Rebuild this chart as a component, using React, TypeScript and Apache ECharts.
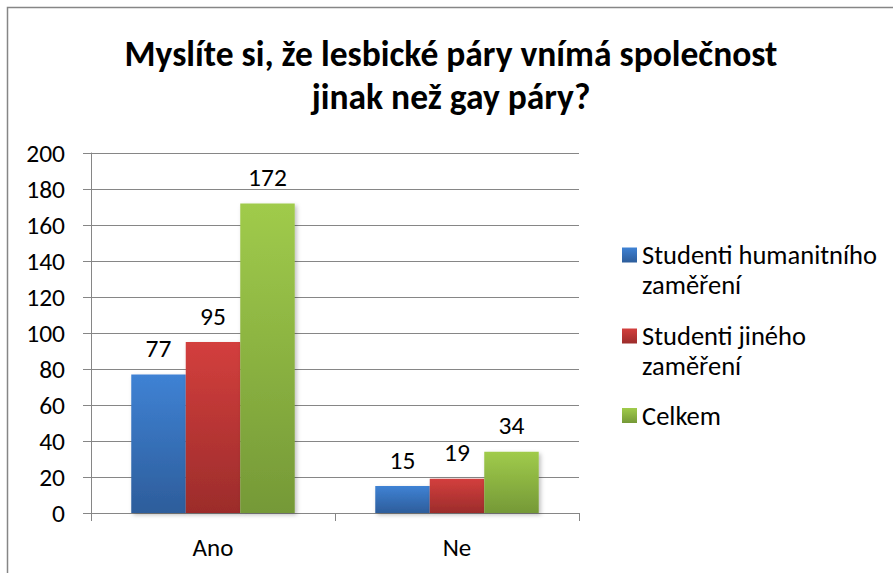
import React, { useEffect, useRef } from "react";
import * as echarts from "echarts";

const titleLines = ["Myslíte si, že lesbické páry vnímá společnost", "jinak než gay páry?"];
const categories = ["Ano", "Ne"];
const seriesNames = ["Studenti humanitního zaměření", "Studenti jiného zaměření", "Celkem"];
const legendLabels = ["Studenti humanitního\nzaměření", "Studenti jiného\nzaměření", "Celkem"];
const humanities = [77, 15];
const other = [95, 19];
const total = [172, 34];
const yTicks = { min: 0, max: 200, interval: 20 };

const FONT = "Carlito, Lato, 'Noto Sans', sans-serif";

const gradients = [
  ["#3f82d4", "#2d5d9b"],
  ["#d33f3d", "#9c2c2b"],
  ["#a0cb4b", "#759937"],
];

export default function App() {
  const ref = useRef<HTMLDivElement>(null);
  useEffect(() => {
    if (!ref.current) return;
    const chart = echarts.init(ref.current, undefined, { renderer: "svg" });
    const values = [humanities, other, total];
    const grad = (i: number) =>
      new echarts.graphic.LinearGradient(0, 0, 0, 1, [
        { offset: 0, color: gradients[i][0] },
        { offset: 1, color: gradients[i][1] },
      ]);
    const legendIconCenters = [255, 336, 415.5];
    const LH = 30;
    const legends = seriesNames.map((name, i) => {
      const multi = legendLabels[i].includes("\n");
      return {
        data: [name],
        orient: "vertical",
        left: 622,
        top: legendIconCenters[i] - (multi ? 1.5 * LH : LH / 2),
        padding: 0,
        itemWidth: 15,
        itemHeight: 15,
        itemGap: 0,
        icon: "rect",
        selectedMode: false,
        formatter: () => (multi ? "\n" + legendLabels[i] : legendLabels[i]),
        textStyle: {
          fontFamily: FONT,
          fontSize: 26.5,
          color: "#000",
          lineHeight: LH,
        },
      };
    });
    chart.setOption({
      animation: false,
      backgroundColor: "#fff",
      textStyle: { fontFamily: FONT },
      title: {
        text: titleLines.join("\n"),
        left: 446,
        textAlign: "center",
        top: 27,
        textStyle: {
          fontFamily: FONT,
          fontSize: 35.5,
          fontWeight: "bold",
          color: "#000",
          lineHeight: 43,
        },
      },
      legend: legends,
      grid: { left: 91, right: 314, top: 153, bottom: 60, containLabel: false },
      xAxis: {
        type: "category",
        data: categories,
        axisLine: { lineStyle: { color: "#868686", width: 1 } },
        axisTick: { show: true, length: 8, alignWithLabel: false, lineStyle: { color: "#868686" } },
        axisLabel: { fontFamily: FONT, fontSize: 25, color: "#000", margin: 22 },
      },
      yAxis: {
        type: "value",
        min: yTicks.min,
        max: yTicks.max,
        interval: yTicks.interval,
        axisLine: { show: true, lineStyle: { color: "#868686", width: 1 } },
        axisTick: { show: true, length: 8, lineStyle: { color: "#868686" } },
        splitLine: { lineStyle: { color: "#868686", width: 1 } },
        axisLabel: { fontFamily: FONT, fontSize: 25.5, color: "#000", margin: 26 },
      },
      series: seriesNames.map((name, i) => ({
        name,
        type: "bar",
        data: values[i],
        barGap: "0%",
        barCategoryGap: "33%",
        itemStyle: {
          color: grad(i),
          shadowBlur: 4,
          shadowOffsetX: 2,
          shadowOffsetY: 2,
          shadowColor: "rgba(0,0,0,0.25)",
        },
        label: {
          show: true,
          position: "top",
          distance: 13,
          fontFamily: FONT,
          fontSize: 25.5,
          color: "#000",
        },
      })),
      graphic: [
        {
          type: "rect",
          shape: { x: 7.5, y: 7.5, width: 1000, height: 1000 },
          style: { fill: "none", stroke: "#868686", lineWidth: 1.5 },
          silent: true,
          z: 100,
        },
      ],
    });
    return () => chart.dispose();
  }, []);
  return (
    <div
      ref={ref}
      style={{ position: "fixed", left: 0, top: 0, width: 893, height: 573 }}
    />
  );
}
